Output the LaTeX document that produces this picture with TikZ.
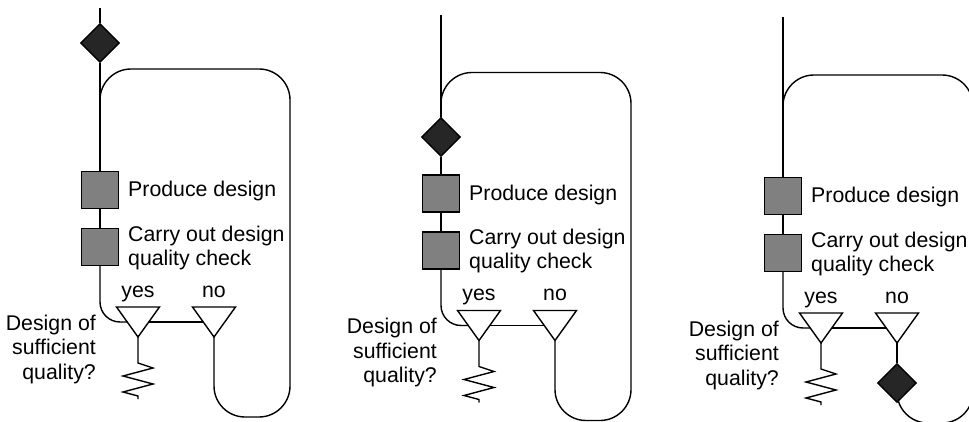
\documentclass[tikz,border=0pt]{standalone}
\usepackage{fontspec}
\setmainfont{Liberation Sans}
\usetikzlibrary{shapes.geometric,backgrounds}

\definecolor{boxgray}{HTML}{808080}
\definecolor{mergegray}{HTML}{262626}

\tikzset{
  flow/.style={line width=1.4pt, draw=black},
  stepbox/.style={rectangle, draw=black, line width=1.4pt, fill=boxgray,
    minimum size=37pt, inner sep=0pt},
  merge/.style={diamond, draw=black, line width=1.4pt, fill=mergegray,
    minimum size=39pt, inner sep=0pt},
  lbl/.style={font=\fontsize{21.3}{24.5}\selectfont, inner sep=0pt},
}

% Parts shared by all three variants: activities, decision and its branches
\newcommand\qualitybody{%
  \node[stepbox] (b1) at (100,190) {};
  \node[stepbox] (b2) at (100,247) {};
  \node[lbl, anchor=base west] (t1) at (128,197) {Produce design};
  \node[lbl, anchor=base west, align=left] (t2) at (128,265.5)
    {Carry out design\\quality check};
  \node[lbl, anchor=base] (tyes) at (138,297) {yes};
  \node[lbl, anchor=base] (tno) at (214,297) {no};
  \node[lbl, anchor=base east, align=right] (tq) at (96,379)
    {Design of\\sufficient\\quality?};
  % branch triangles
  \coordinate (yes) at (138,322);
  \coordinate (no) at (214,322);
  \coordinate (yes-l) at (127.25,322);
  \coordinate (yes-r) at (148.75,322);
  \coordinate (no-l) at (203.25,322);
  \coordinate (yes-tip) at (138,337);
  \coordinate (no-tip) at (214,337);
  \draw[flow] (yes) ++(-21.5,-15) -- ++(43,0) -- ++(-21.5,30) -- cycle;
  \draw[flow] (no) ++(-21.5,-15) -- ++(43,0) -- ++(-21.5,30) -- cycle;
  \draw[flow] (yes-r) -- (no-l);
  % terminating zigzag under "yes"
  \draw[flow] (yes-tip) -- ++(0,26) -- ++(15,5) -- ++(-30,8) -- ++(30,8)
    -- ++(-30,8) -- ++(15,4) -- ++(0,3);
  \draw[flow] (b1.south) -- (b2.north);
  \draw[flow, rounded corners=20] (b2.south) |- (yes-l);
}

\begin{document}
\begin{tikzpicture}[x=1pt, y=-1pt]
\useasboundingbox (0,0) rectangle (969,422);
\clip (0,0) rectangle (969,422);

% Variant 1: merge before the loop
\begin{scope}[name prefix=a-]
  \coordinate (top) at (100,8);
  \node[merge] (dia) at (100,43) {};
  \qualitybody
  \coordinate (join) at (100,120);
  \draw[flow] (top) -- (dia.north);
  \draw[flow] (dia.south) -- (b1.north);
  \draw[flow, rounded corners=31] (no-tip) -- (214,417) -- (290,417)
    -- (290,69) -- (100,69) -- (join);
\end{scope}

% Variant 2: merge inside the loop
\begin{scope}[shift={(341,3.5)}, name prefix=b-]
  \coordinate (top) at (100,11.5);
  \node[merge] (dia) at (100,133.5) {};
  \qualitybody
  \coordinate (join) at (100,115);
  \draw[flow] (top) -- (dia.north);
  \draw[flow] (dia.south) -- (b1.north);
  \draw[flow, rounded corners=31] (no-tip) -- (214,417) -- (290,417)
    -- (290,69) -- (100,69) -- (join);
\end{scope}

% Variant 3: merge on the "no" branch
\begin{scope}[shift={(683,6)}, name prefix=c-]
  \coordinate (top) at (100,11);
  \qualitybody
  \node[merge] (dia) at (214,377) {};
  \coordinate (join) at (100,120);
  \draw[flow] (top) -- (b1.north);
  \draw[flow] (no-tip) -- (dia.north);
  \begin{pgfonlayer}{background}
    \draw[flow, rounded corners=31] (dia.center) -- (214,417) -- (290,417)
      -- (290,69) -- (100,69) -- (join);
  \end{pgfonlayer}
\end{scope}
\end{tikzpicture}
\end{document}
